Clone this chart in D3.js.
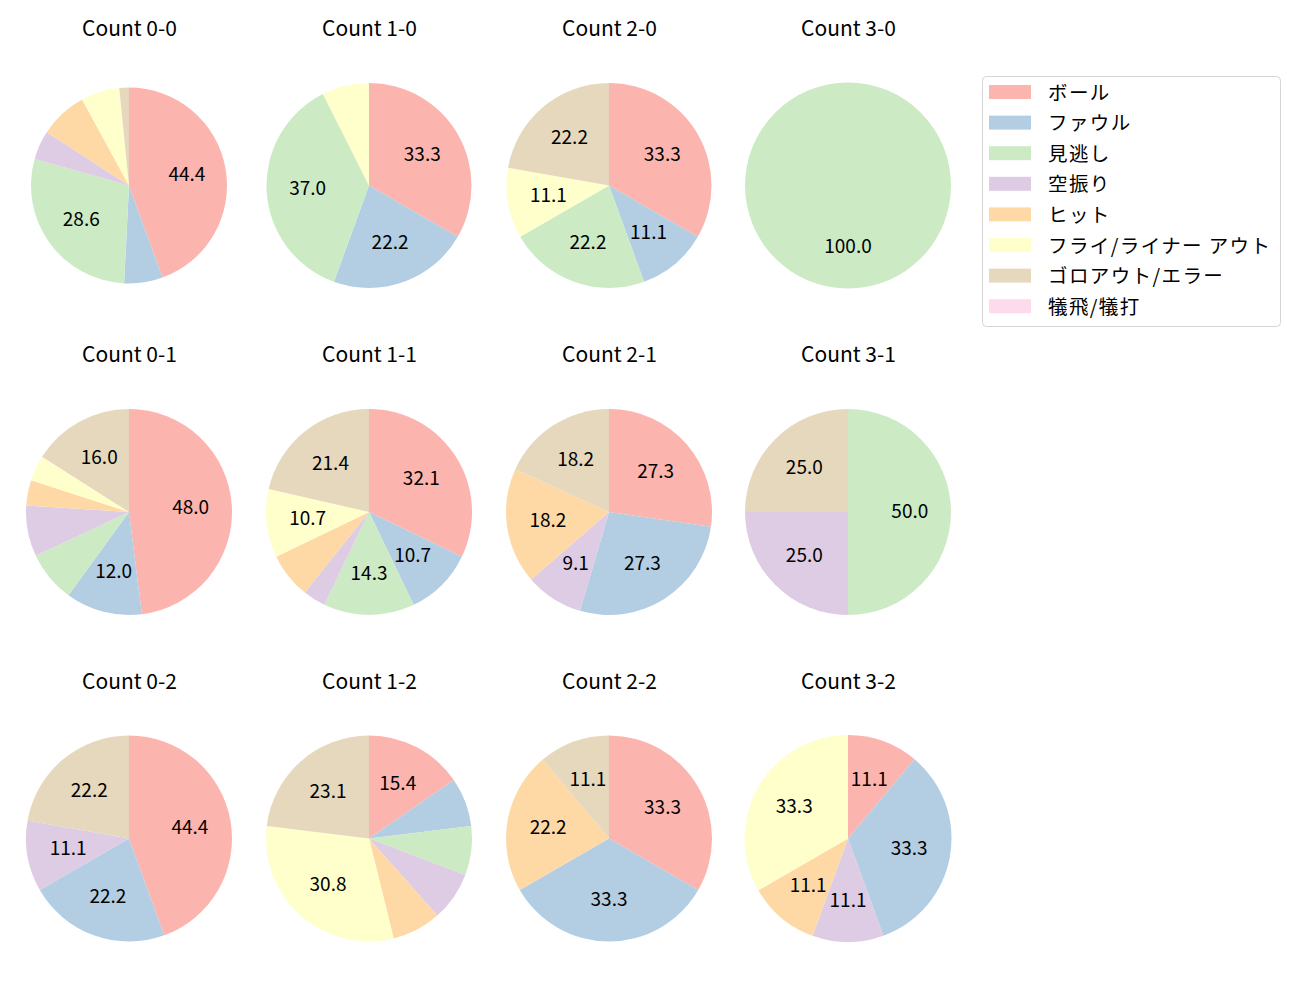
<!DOCTYPE html>
<html>
<head>
<meta charset="utf-8">
<script src="https://cdn.jsdelivr.net/npm/d3@7"></script>
<style>
  html, body { margin: 0; padding: 0; background: #fff; }
  svg { display: block; font-family: "Noto Sans CJK JP", "DejaVu Sans", sans-serif; }
</style>
</head>
<body>
<svg id="chart" width="1300" height="1000"></svg>
<script>
// Outcome categories (legend order)
const categories = ["ボール", "ファウル", "見逃し", "空振り", "ヒット", "フライ/ライナー アウト", "ゴロアウト/エラー", "犠飛/犠打"];
const colors = ["#fbb4ae", "#b3cde3", "#ccebc5", "#decbe4", "#fed9a6", "#ffffcc", "#e5d8bd", "#fddaec"];

// Panel titles (row-major, 3 rows x 4 columns)
const panelTitles = [
  "Count 0-0", "Count 1-0", "Count 2-0", "Count 3-0",
  "Count 0-1", "Count 1-1", "Count 2-1", "Count 3-1",
  "Count 0-2", "Count 1-2", "Count 2-2", "Count 3-2"
];

// Pitch counts per category for each panel (same order as categories)
const count00 = [28, 4, 18, 3, 5, 4, 1, 0];
const count10 = [9, 6, 10, 0, 0, 2, 0, 0];
const count20 = [3, 1, 2, 0, 0, 1, 2, 0];
const count30 = [0, 0, 1, 0, 0, 0, 0, 0];
const count01 = [12, 3, 2, 2, 1, 1, 4, 0];
const count11 = [9, 3, 4, 1, 2, 3, 6, 0];
const count21 = [3, 3, 0, 1, 2, 0, 2, 0];
const count31 = [0, 0, 2, 1, 0, 0, 1, 0];
const count02 = [4, 2, 0, 1, 0, 0, 2, 0];
const count12 = [2, 1, 1, 1, 1, 4, 3, 0];
const count22 = [3, 3, 0, 0, 2, 0, 1, 0];
const count32 = [1, 3, 0, 1, 1, 3, 0, 0];

const panelValues = [count00, count10, count20, count30,
                     count01, count11, count21, count31,
                     count02, count12, count22, count32];

const svg = d3.select("#chart");

// layout
const colX = [129, 369, 609, 848];
const rowY = [185.5, 512, 838.5];
const titleY = [35.5, 362, 688.5];
const radii = [98, 102.5, 102.5, 103, 103, 103, 103, 103, 103, 103, 103, 103.5];
const labelMin = 9; // percent threshold for showing value labels

const pie = d3.pie().sort(null).value(d => d).startAngle(0).endAngle(2 * Math.PI);
const color = d3.scaleOrdinal().domain(categories).range(colors);

panelValues.forEach((vals, i) => {
  const r = radii[i];
  const col = i % 4, row = Math.floor(i / 4);
  const g = svg.append("g").attr("transform", `translate(${colX[col]},${rowY[row]})`);
  const total = d3.sum(vals);
  const arcs = pie(vals);
  const arc = d3.arc().innerRadius(0).outerRadius(r);
  const labelArc = d3.arc().innerRadius(r * 0.6).outerRadius(r * 0.6);

  g.selectAll("path")
    .data(arcs.filter(a => a.value > 0))
    .join("path")
    .attr("d", arc)
    .attr("fill", a => color(categories[a.index]));

  g.selectAll("text.pct")
    .data(arcs.filter(a => a.value > 0 && a.value / total * 100 >= labelMin))
    .join("text")
    .attr("class", "pct")
    .attr("transform", a => {
      const [x, y] = labelArc.centroid(a);
      return `translate(${x},${y - 2.5})`;
    })
    .attr("text-anchor", "middle")
    .attr("dominant-baseline", "central")
    .attr("font-size", 19)
    .attr("fill", "#000")
    .text(a => (a.value / total * 100).toFixed(1));

  svg.append("text")
    .attr("x", colX[col] + 0.5)
    .attr("y", titleY[row])
    .attr("text-anchor", "middle")
    .attr("font-size", 21)
    .attr("fill", "#000")
    .text(panelTitles[i]);
});

// legend
const lg = svg.append("g").attr("transform", "translate(982,76)");
lg.append("rect")
  .attr("x", 0.5).attr("y", 0.5)
  .attr("width", 298).attr("height", 250)
  .attr("rx", 4).attr("ry", 4)
  .attr("fill", "#fff")
  .attr("stroke", "#d5d5d5")
  .attr("stroke-width", 1);

const items = lg.selectAll("g.item")
  .data(categories)
  .join("g")
  .attr("class", "item")
  .attr("transform", (d, k) => `translate(0,${16 + k * 30.6})`);

items.append("rect")
  .attr("x", 7).attr("y", -7)
  .attr("width", 42).attr("height", 14)
  .attr("fill", d => color(d));

items.append("text")
  .attr("x", 66).attr("y", -1)
  .attr("dominant-baseline", "central")
  .attr("font-size", 19.5)
  .attr("letter-spacing", 1.4)
  .attr("fill", "#000")
  .text(d => d);
</script>
</body>
</html>
